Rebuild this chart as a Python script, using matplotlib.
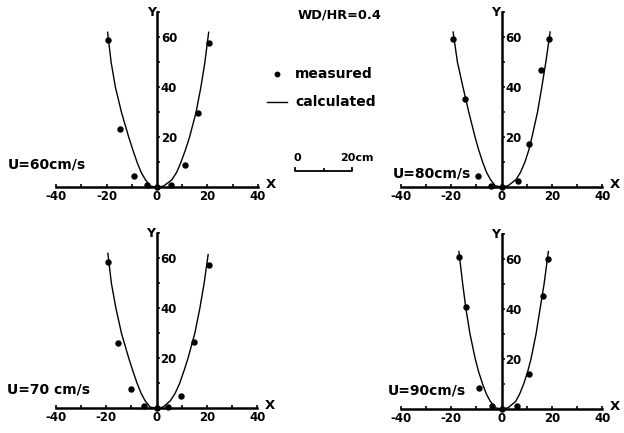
import numpy as np
import matplotlib.pyplot as plt
from matplotlib.ticker import FixedLocator

plt.rcParams['font.family'] = 'DejaVu Sans'
plt.rcParams['font.weight'] = 'bold'

# measured points
meas_x_60 = [-19.3, -14.5, -9.2, -4.1, 0, 5.7, 11.1, 16.1, 20.7]
meas_y_60 = [58.9, 23.2, 4.4, 0.8, 0, 0.8, 9.1, 29.6, 57.9]
meas_x_80 = [-19.1, -14.3, -9.3, -4.1, 0, 6.5, 10.9, 15.8, 18.9]
meas_y_80 = [59.3, 35.2, 4.5, 0.6, 0, 2.3, 17.3, 46.9, 59.3]
meas_x_70 = [-19.3, -15.2, -10.0, -5.0, 0, 4.6, 9.8, 14.9, 20.7]
meas_y_70 = [58.7, 26.0, 7.6, 1.0, 0, 0.5, 5.1, 26.4, 57.3]
meas_x_90 = [-16.8, -14.1, -9.1, -3.7, 0, 6.3, 10.9, 16.3, 18.3]
meas_y_90 = [60.7, 40.7, 8.3, 1.3, 0, 1.3, 13.9, 45.3, 60.0]

# calculated curves (left top -> bottom -> right top)
calc_x_60 = [-19.6, -18.2, -16.5, -14.1, -11.2, -9.6, -7.9, -6.3, -4.6, -2.6, 0,
             2.6, 5.9, 7.8, 9.5, 11.3, 12.9, 15.5, 17.4, 19.0, 20.5]
calc_y_60 = [62, 50, 40, 30, 20, 15, 10, 6, 3, 0.5, 0,
             0.5, 3, 6, 10, 15, 20, 30, 40, 50, 62]
calc_x_80 = [-19.2, -17.5, -15.3, -13.0, -10.5, -9.1, -7.5, -6.0, -4.4, -2.5, 0,
             2.6, 5.8, 7.6, 9.3, 10.9, 12.1, 14.3, 16.0, 17.6, 19.3]
calc_y_80 = [62, 50, 40, 30, 20, 15, 10, 6, 3, 0.5, 0,
             0.5, 3, 6, 10, 15, 20, 30, 40, 50, 62]
calc_x_70 = [-19.3, -17.9, -16.1, -13.9, -11.0, -9.4, -7.7, -6.1, -4.5, -2.6, 0,
             2.6, 5.5, 7.4, 9.2, 10.9, 12.5, 15.2, 17.2, 18.9, 20.5]
calc_y_70 = [62, 50, 40, 30, 20, 15, 10, 6, 3, 0.5, 0,
             0.5, 3, 6, 10, 15, 20, 30, 40, 50, 61.5]
calc_x_90 = [-16.9, -15.4, -14.1, -12.5, -10.4, -9.1, -7.5, -6.0, -4.4, -2.5, 0,
             2.6, 5.6, 7.2, 8.8, 10.4, 11.7, 13.7, 15.3, 16.9, 18.6]
calc_y_90 = [63, 50, 40, 30, 20, 15, 10, 6, 3, 0.5, 0,
             0.5, 3, 6, 10, 15, 20, 30, 40, 50, 63]

labels = ['U=60cm/s', 'U=80cm/s', 'U=70 cm/s', 'U=90cm/s']

W, H = 624, 433
fig = plt.figure(figsize=(W / 100, H / 100), dpi=100)

SX, SY = 2.52, 2.5
XL, XR, YB, YT = -60, 50, -8, 74


def panel(ox, oy, mx, my, cx, cy, label, lx, ly):
    left = ox + XL * SX
    top = oy - YT * SY
    w = (XR - XL) * SX
    h = (YT - YB) * SY
    ax = fig.add_axes([left / W, 1 - (top + h) / H, w / W, h / H])
    ax.set_xlim(XL, XR)
    ax.set_ylim(YB, YT)
    ax.patch.set_visible(False)

    ax.spines['left'].set_visible(False)
    ax.spines['top'].set_visible(False)
    ax.spines['bottom'].set_position(('data', 0))
    ax.spines['bottom'].set_bounds(-40, 40)
    ax.spines['bottom'].set_linewidth(1.8)
    ax.spines['right'].set_position(('data', 0))
    ax.spines['right'].set_bounds(0, 70)
    ax.spines['right'].set_linewidth(1.8)

    ax.yaxis.tick_right()
    ax.set_xticks([-40, -20, 0, 20, 40])
    ax.set_xticklabels(['-40', '-20', '0', '20', '40'])
    ax.xaxis.set_minor_locator(FixedLocator([-30, -10, 10, 30]))
    ax.set_yticks([20, 40, 60])
    ax.yaxis.set_minor_locator(FixedLocator([10, 30, 50, 70]))
    ax.tick_params(axis='x', which='both', direction='in', length=2, width=1.2,
                   pad=2, labelsize=8.5)
    ax.tick_params(axis='y', which='both', direction='out', length=2.2, width=1.1,
                   pad=0.5, labelsize=8.5)

    ax.plot(cx, cy, color='black', lw=1.0, clip_on=False)
    ax.plot(mx, my, 'o', color='black', ms=3.6, clip_on=False)

    ax.text(-2.3, 70, 'Y', ha='center', va='center', fontsize=9)
    ax.text(45, 1.0, 'X', ha='center', va='center', fontsize=9.5)
    ax.text(lx, ly, label, ha='left', va='center', fontsize=10)
    return ax


panel(157, 187.3, meas_x_60, meas_y_60, calc_x_60, calc_y_60, labels[0], -59.3, 9)
panel(501.5, 187.0, meas_x_80, meas_y_80, calc_x_80, calc_y_80, labels[1], -43, 5.3)
panel(156.5, 408.3, meas_x_70, meas_y_70, calc_x_70, calc_y_70, labels[2], -59.2, 7.7)
panel(501.5, 409.0, meas_x_90, meas_y_90, calc_x_90, calc_y_90, labels[3], -45, 7.5)

# overlay for header, legend and scale bar (pixel coordinates)
ov = fig.add_axes([0, 0, 1, 1])
ov.set_xlim(0, W)
ov.set_ylim(H, 0)
ov.axis('off')
ov.patch.set_visible(False)

ov.text(340, 15, 'WD/HR=0.4', ha='center', va='center', fontsize=9.3)

ov.plot([277], [74], 'o', color='black', ms=3.2)
ov.text(295, 74, 'measured', ha='left', va='center', fontsize=10)
ov.plot([267, 287], [101.5, 101.5], color='black', lw=1.0)
ov.text(295, 101.5, 'calculated', ha='left', va='center', fontsize=10)

ov.plot([295, 295, 352, 352], [168, 171, 171, 168], color='black', lw=1.3)
ov.plot([324, 324], [169, 171], color='black', lw=1.3)
ov.text(297, 158, '0', ha='center', va='center', fontsize=8)
ov.text(357, 158, '20cm', ha='center', va='center', fontsize=8)

fig.savefig('out.png', dpi=100)
